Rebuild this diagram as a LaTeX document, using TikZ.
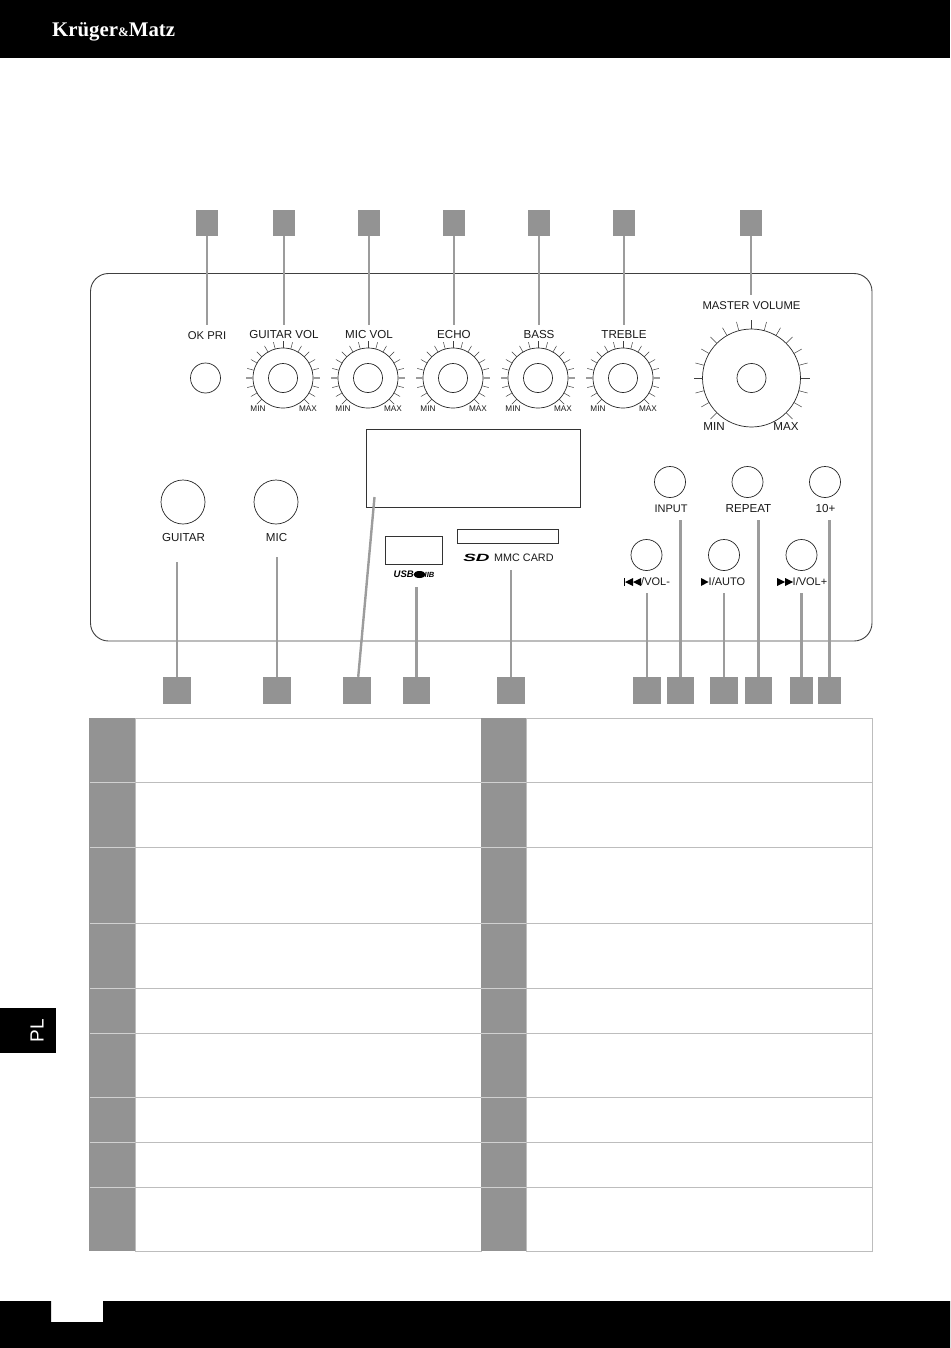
\documentclass[tikz,border=0pt]{standalone}
\usepackage{fontspec}
\setmainfont{Liberation Sans}
\newfontfamily\brandfont{Liberation Serif}
\usepackage{tikz}

\definecolor{tabgray}{HTML}{939393}
\definecolor{leadgray}{HTML}{9C9C9C}
\definecolor{rulegray}{HTML}{BDBDBD}

\begin{document}
\begin{tikzpicture}[x=1pt,y=-1pt]
    \tikzstyle{lead}=[draw=leadgray,line width=2.4pt]
    \tikzstyle{callout}=[rectangle,fill=tabgray,draw=none,minimum width=22.5pt,minimum height=26pt,inner sep=0pt]
    \tikzstyle{callwide}=[callout,minimum width=27.5pt,minimum height=27pt]
    \tikzstyle{callslim}=[callout,minimum width=23pt,minimum height=27pt]
    \tikzstyle{knob}=[circle,draw=black!85,line width=0.7pt,minimum size=60pt,inner sep=0pt]
    \tikzstyle{hub}=[circle,draw=black!85,line width=0.7pt,minimum size=29pt,inner sep=0pt]
    \tikzstyle{button}=[circle,draw=black!85,line width=0.7pt,minimum size=31pt,inner sep=0pt]
    \tikzstyle{jack}=[circle,draw=black!85,line width=0.7pt,minimum size=44pt,inner sep=0pt]
    \tikzstyle{slot}=[rectangle,draw=black!80,line width=0.7pt,inner sep=0pt]
    \tikzstyle{tickmark}=[draw=black!75,line width=0.5pt]
    \tikzstyle{legend}=[inner sep=0pt,font=\fontsize{11.6}{13}\selectfont,text=black!90]
    \tikzstyle{legendsmall}=[legend,font=\fontsize{11}{13}\selectfont]
    \tikzstyle{tiny}=[inner sep=0pt,font=\fontsize{8.2}{9}\selectfont,text=black!90]

    \useasboundingbox (0,0) rectangle (950,1348);

    % header and footer
    \fill[black] (0,0) rectangle (950,58);
    \fill[black] (0,1301) -- (51,1301) -- (51,1322) -- (103,1322) -- (103,1301) -- (950,1301) -- (950,1348) -- (0,1348) -- cycle;
    \node[anchor=base west,inner sep=0pt,text=white] (brand) at (52,36.5)
        {\brandfont\bfseries\fontsize{20.8}{22}\selectfont Kr\"uger{\fontsize{13}{14}\selectfont\&}Matz};
    \fill[black] (0,1008) rectangle (56,1053);
    \node[rotate=90,inner sep=0pt,text=white,font=\fontsize{19}{21}\selectfont] (lang) at (37,1031) {PL};

    % panel
    \draw[draw=black!75,line width=0.9pt,rounded corners=18pt] (90.5,273.5) rectangle (872,641);

    % knobs
    \foreach \k/\t in {283/GUITAR VOL,368/MIC VOL,453/ECHO,538/BASS,623/TREBLE}{
        \node[knob] (knob\k) at (\k,378) {};
        \node[hub]  (hub\k)  at (\k,378) {};
        \foreach \a in {-225,-210,...,45}
            \path[tickmark,shift={(\k,378)}] (\a:30) -- (\a:37);
        \path[tickmark,draw=leadgray,line width=1.3pt,shift={(\k,378)}] (0:30) -- (0:37);
        \path[tickmark,draw=leadgray,line width=1.3pt,shift={(\k,378)}] (180:30) -- (180:37);
        \node[legend] (name\k) at (\k+1,335) {\t};
        \node[tiny]  (min\k)  at (\k-25,409) {MIN};
        \node[tiny]  (max\k)  at (\k+25,409) {MAX};
    }

    % master volume
    \node[knob,minimum size=98pt] (master) at (751.5,378) {};
    \node[hub] (masterhub) at (751.5,378) {};
    \foreach \a in {-225,-210,...,45}
        \path[tickmark,shift={(751.5,378)}] (\a:49) -- (\a:58);
    \node[legendsmall,font=\fontsize{11.3}{13}\selectfont] (mastername) at (751.5,306) {MASTER VOLUME};
    \node[legend] (mastermin) at (714,427) {MIN};
    \node[legend] (mastermax) at (786,427) {MAX};

    \node[hub,minimum size=30pt] (okpri) at (205.5,378) {};
    \node[legendsmall,font=\fontsize{11.3}{13}\selectfont] (okprilabel) at (207,335.5) {OK PRI};

    % jacks
    \node[jack] (guitar) at (183,502) {};
    \node[jack] (mic)    at (276,502) {};
    \node[legend] (guitarlabel) at (183.5,538) {GUITAR};
    \node[legend] (miclabel)    at (276.5,538) {MIC};

    % display, usb, card
    \node[slot,minimum width=213.5pt,minimum height=78pt] (display) at (473.25,468) {};
    \node[slot,minimum width=57.5pt,minimum height=28.5pt] (usb) at (413.75,550.25) {};
    \node[slot,minimum width=100.5pt,minimum height=14pt] (card) at (507.75,536.5) {};
    \node[anchor=west,inner sep=0pt,font=\bfseries\itshape\fontsize{9.5}{10}\selectfont] (usblogo) at (393.5,574.5) {USB};
    \fill[black] (419.5,574.5) ellipse (6pt and 3.5pt);
    \node[anchor=west,inner sep=0pt,font=\bfseries\itshape\fontsize{7.5}{10}\selectfont] (usbtail) at (424.5,574.5) {IIB};
    \node[anchor=west,inner sep=0pt,xscale=1.8,transform shape,font=\bfseries\itshape\fontsize{10.5}{11}\selectfont] (sdlogo) at (463,558) {SD};
    \node[legendsmall,font=\fontsize{10.8}{13}\selectfont,anchor=west] (cardlabel) at (494,558) {MMC CARD};

    % buttons
    \node[button] (input)   at (670,482)   {};
    \node[button] (repeat)  at (747.5,482) {};
    \node[button] (tenplus) at (825,482)   {};
    \node[button] (prev)    at (646.5,555) {};
    \node[button] (play)    at (724,555)   {};
    \node[button] (next)    at (801.5,555) {};
    \node[legendsmall] (inputlabel)   at (671,509) {INPUT};
    \node[legend] (repeatlabel)  at (748.5,509)   {REPEAT};
    \node[legend] (tenpluslabel) at (825.5,509) {10+};

    \fill[black] (623.5,578) rectangle (624.8,586);
    \fill[black] (625,582) -- (633,578) -- (633,586) -- cycle;
    \fill[black] (633,582) -- (641,578) -- (641,586) -- cycle;
    \node[legendsmall,anchor=west] (prevlabel) at (641,582) {/VOL-};
    \fill[black] (701,578) -- (708.5,582) -- (701,586) -- cycle;
    \node[legendsmall,anchor=west] (playlabel) at (708.5,582) {I/AUTO};
    \fill[black] (777,578) -- (785,582) -- (777,586) -- cycle;
    \fill[black] (785,578) -- (793,582) -- (785,586) -- cycle;
    \node[legendsmall,anchor=west] (nextlabel) at (792.5,582) {I/VOL+};

    % callouts on top
    \foreach \n/\c/\e in {a/207/325,b/284/325,c/369/325,d/454/325,e/539/325,f/624/325,g/751/295}{
        \node[callout] (top\n) at (\c,223) {};
        \coordinate (topend\n) at (\c,\e);
        \path[lead] (top\n) -- (topend\n);
    }

    % callouts below
    \foreach \n/\c/\e in {a/177/562,b/277/557,d/416.5/587,e/511/570,f/647/593,g/680.5/520,h/724/593,i/758.5/520}{
        \node[callwide] (low\n) at (\c,690.5) {};
        \coordinate (lowend\n) at (\c,\e);
        \path[lead] (low\n) -- (lowend\n);
    }
    \foreach \n/\c/\e in {j/801.5/593,k/829.5/520}{
        \node[callslim] (low\n) at (\c,690.5) {};
        \coordinate (lowend\n) at (\c,\e);
        \path[lead] (low\n) -- (lowend\n);
    }
    \node[callwide] (lowc) at (357,690.5) {};
    \coordinate (lowendc) at (374.5,497);
    \path[lead] (lowc) -- (lowendc);

    % table
    \foreach \u/\v in {718/782,782/847,847/923,923/988,988/1033,1033/1097,1097/1142,1142/1187,1187/1251}{
        \draw[draw=rulegray,line width=1pt] (135,\u) rectangle (481,\v);
        \draw[draw=rulegray,line width=1pt] (526,\u) rectangle (872.5,\v);
        \fill[tabgray] (89,\u) rectangle (135,\v);
        \fill[tabgray] (481,\u) rectangle (526,\v);
    }
    \foreach \u in {782,847,923,988,1033,1097,1142,1187}{
        \draw[draw=rulegray!70,line width=1pt] (90,\u) -- (135,\u);
        \draw[draw=rulegray!70,line width=1pt] (481,\u) -- (526,\u);
    }
\end{tikzpicture}
\end{document}
